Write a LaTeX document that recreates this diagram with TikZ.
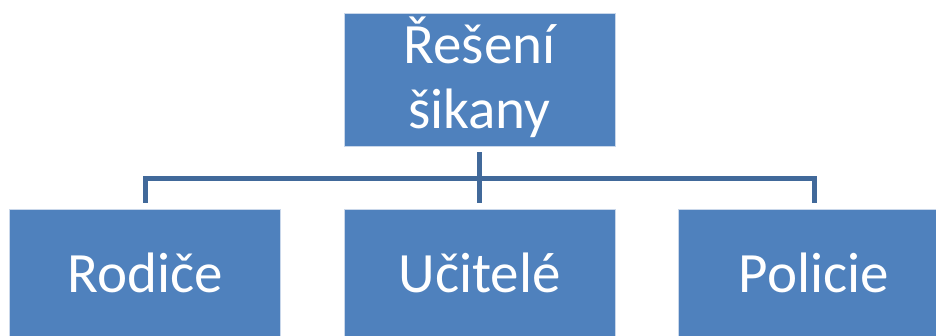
\documentclass[tikz,border=0pt]{standalone}
\usepackage{fontspec}
\setmainfont{Carlito}
\definecolor{boxfill}{HTML}{4F81BD}
\definecolor{boxedge}{HTML}{C9D7EA}
\definecolor{connc}{HTML}{41699A}
\begin{document}
\begin{tikzpicture}[x=1pt,y=-1pt,
  box/.style={draw=boxedge,line width=0.8pt,fill=boxfill,minimum width=271pt,minimum height=133pt,inner sep=0pt,outer sep=0pt},
  lab/.style={text=white,font=\fontsize{57}{65}\selectfont,inner sep=0pt,align=center},
  conn/.style={draw=connc,line width=5pt,shorten <=6pt,shorten >=6pt}]
\clip (0,0) rectangle (936,335);
\useasboundingbox (0,0) rectangle (936,335);
\node[box] (top) at (479.5,79.5) {};
\node[box] (rod) at (145,275.5) {};
\node[box] (uci) at (479.5,275.5) {};
\node[box] (pol) at (814,275.5) {};
\coordinate (bus) at (479.5,178);
\node[lab,anchor=base] (topt) at (479.5,128) {Řešení\\šikany};
\node[lab,anchor=base] (rodt) at (145,292) {Rodiče};
\node[lab,anchor=base] (ucit) at (479.5,292) {Učitelé};
\node[lab,anchor=base] (polt) at (814,292) {Policie};
\draw[conn] (top.south) -- (bus) -| (rod.north);
\draw[conn] (top.south) -- (bus) -| (pol.north);
\draw[conn] (top.south) -- (uci.north);
\end{tikzpicture}
\end{document}
